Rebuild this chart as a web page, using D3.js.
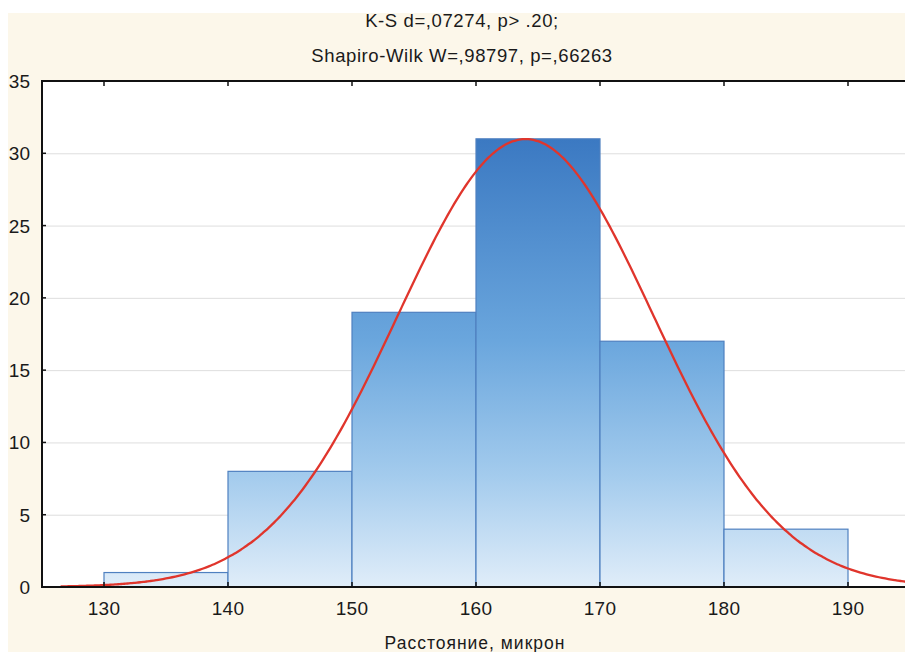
<!DOCTYPE html>
<html lang="ru">
<head>
<meta charset="UTF-8">
<title>Histogram</title>
<script src="https://cdnjs.cloudflare.com/ajax/libs/d3/7.8.5/d3.min.js"></script>
<style>
  body { margin: 0; background: #fff; }
  svg { display: block; font-family: "Liberation Sans", Arial, sans-serif; }
</style>
</head>
<body>
<div id="chart"></div>
<script>
// histogram bins (lower edge) and counts
const binStarts = [130, 140, 150, 160, 170, 180];
const binWidth = 10;
const counts = [1, 8, 19, 31, 17, 4];

const xTicks = [130, 140, 150, 160, 170, 180, 190];
const yTicks = [0, 5, 10, 15, 20, 25, 30, 35];

// fitted normal
const fitMean = 164.0;
const fitSd = 10.3;
const fitN = 80;

const titleLines = ["K-S d=,07274, p> .20;", "Shapiro-Wilk W=,98797, p=,66263"];
const xLabel = "Расстояние, микрон";

const W = 905, H = 652;
const margin = { top: 81, left: 42, bottom: 65 };
const plotH = H - margin.top - margin.bottom;

const svg = d3.select("#chart").append("svg")
    .attr("width", W)
    .attr("height", H);

// page background
svg.append("rect").attr("x", 8).attr("y", 13).attr("width", W - 8).attr("height", H - 13)
    .attr("fill", "#fcf7ea");

const x = d3.scaleLinear().domain([125, 195]).range([margin.left, 910]);
const y = d3.scaleLinear().domain([0, 35]).range([margin.top + plotH, margin.top]);

const defs = svg.append("defs");
defs.append("clipPath").attr("id", "clip")
    .append("rect").attr("x", margin.left).attr("y", margin.top)
    .attr("width", W - margin.left).attr("height", plotH);

const grad = defs.append("linearGradient").attr("id", "barGrad")
    .attr("gradientUnits", "userSpaceOnUse")
    .attr("x1", 0).attr("x2", 0)
    .attr("y1", y(31)).attr("y2", y(0));
grad.append("stop").attr("offset", "0%").attr("stop-color", "#3b79c2");
grad.append("stop").attr("offset", "45%").attr("stop-color", "#6aa6dd");
grad.append("stop").attr("offset", "75%").attr("stop-color", "#a3cbed");
grad.append("stop").attr("offset", "100%").attr("stop-color", "#e0edf9");

// plot area
svg.append("rect").attr("x", margin.left).attr("y", margin.top)
    .attr("width", W - margin.left).attr("height", plotH).attr("fill", "#fff");

const g = svg.append("g").attr("clip-path", "url(#clip)");

// gridlines
g.selectAll("line.grid").data(yTicks.filter(d => d > 0 && d < 35)).enter()
    .append("line").attr("class", "grid")
    .attr("x1", margin.left).attr("x2", W)
    .attr("y1", d => y(d) + 0.5).attr("y2", d => y(d) + 0.5)
    .attr("stroke", "#dedede").attr("stroke-width", 1);

// bars
g.selectAll("rect.bar").data(binStarts).enter()
    .append("rect").attr("class", "bar")
    .attr("x", d => x(d))
    .attr("y", (d, i) => y(counts[i]))
    .attr("width", d => x(d + binWidth) - x(d))
    .attr("height", (d, i) => y(0) - y(counts[i]))
    .attr("fill", "url(#barGrad)")
    .attr("stroke", "#4f80c0")
    .attr("stroke-width", 1.2);

// normal curve
const curveX = d3.range(126.5, 195.01, 0.25);
const normal = v => fitN * binWidth / (fitSd * Math.sqrt(2 * Math.PI)) *
    Math.exp(-((v - fitMean) ** 2) / (2 * fitSd * fitSd));
g.append("path")
    .datum(curveX)
    .attr("fill", "none")
    .attr("stroke", "#e0352c")
    .attr("stroke-width", 2.3)
    .attr("d", d3.line().x(d => x(d)).y(d => y(normal(d))).curve(d3.curveBasis));

// frame
svg.append("line").attr("x1", margin.left).attr("x2", W)
    .attr("y1", y(35)).attr("y2", y(35)).attr("stroke", "#111").attr("stroke-width", 2);
svg.append("line").attr("x1", margin.left).attr("x2", W)
    .attr("y1", y(0)).attr("y2", y(0)).attr("stroke", "#111").attr("stroke-width", 2);
svg.append("line").attr("x1", margin.left).attr("x2", margin.left)
    .attr("y1", y(35) - 1).attr("y2", y(0) + 1).attr("stroke", "#111").attr("stroke-width", 2);

// inner ticks
svg.selectAll("line.tt").data(xTicks).enter().append("line")
    .attr("x1", d => x(d)).attr("x2", d => x(d))
    .attr("y1", y(35)).attr("y2", y(35) + 5)
    .attr("stroke", "#111").attr("stroke-width", 1.5);
svg.selectAll("line.bt").data(xTicks).enter().append("line")
    .attr("x1", d => x(d)).attr("x2", d => x(d))
    .attr("y1", y(0)).attr("y2", y(0) - 5)
    .attr("stroke", "#111").attr("stroke-width", 1.5);
svg.selectAll("line.lt").data(yTicks).enter().append("line")
    .attr("x1", margin.left).attr("x2", margin.left + 4)
    .attr("y1", d => y(d)).attr("y2", d => y(d))
    .attr("stroke", "#111").attr("stroke-width", 1.5);

// tick labels
svg.selectAll("text.xl").data(xTicks).enter().append("text")
    .attr("x", d => x(d)).attr("y", y(0) + 28)
    .attr("text-anchor", "middle")
    .attr("font-size", 19).attr("letter-spacing", 0.3).attr("fill", "#1a1a1a")
    .text(d => d);
svg.selectAll("text.yl").data(yTicks).enter().append("text")
    .attr("x", 30).attr("y", d => y(d) + 7)
    .attr("text-anchor", "end")
    .attr("font-size", 19).attr("fill", "#1a1a1a")
    .text(d => d);

// titles
svg.selectAll("text.title").data(titleLines).enter().append("text")
    .attr("x", 462).attr("y", (d, i) => 27 + i * 35)
    .attr("text-anchor", "middle")
    .attr("font-size", 18.5).attr("letter-spacing", 0.6).attr("fill", "#1a1a1a")
    .text(d => d);

svg.append("text")
    .attr("x", 475).attr("y", 649)
    .attr("text-anchor", "middle")
    .attr("font-size", 17.5).attr("letter-spacing", 1).attr("fill", "#1a1a1a")
    .text(xLabel);
</script>
</body>
</html>
